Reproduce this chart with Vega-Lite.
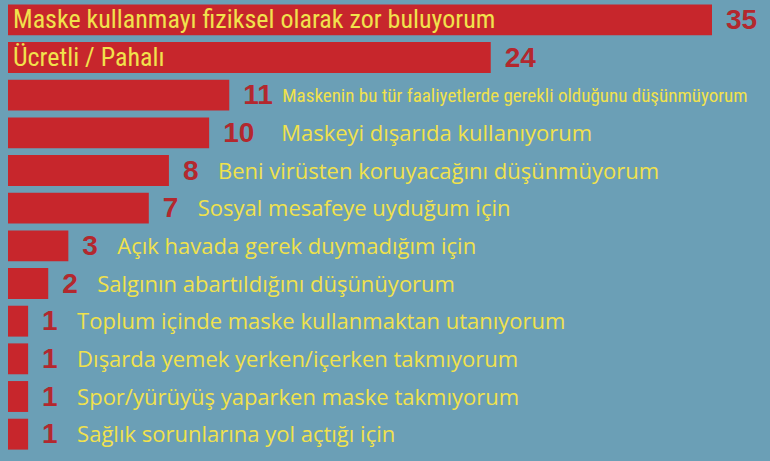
{
  "$schema": "https://vega.github.io/schema/vega-lite/v6.json",
  "width": 704,
  "height": 452,
  "autosize": {"type": "none"},
  "padding": {"top": 1, "left": 8, "right": 58, "bottom": 8},
  "background": "#6b9fb6",
  "config": {"view": {"stroke": null}},
  "data": {
    "values": [
      {"reason": "Maske kullanmayı fiziksel olarak zor buluyorum", "value": 35},
      {"reason": "Ücretli / Pahalı", "value": 24},
      {"reason": "Maskenin bu tür faaliyetlerde gerekli olduğunu düşünmüyorum", "value": 11},
      {"reason": "Maskeyi dışarıda kullanıyorum", "value": 10},
      {"reason": "Beni virüsten koruyacağını düşünmüyorum", "value": 8},
      {"reason": "Sosyal mesafeye uyduğum için", "value": 7},
      {"reason": "Açık havada gerek duymadığım için", "value": 3},
      {"reason": "Salgının abartıldığını düşünüyorum", "value": 2},
      {"reason": "Toplum içinde maske kullanmaktan utanıyorum", "value": 1},
      {"reason": "Dışarda yemek yerken/içerken takmıyorum", "value": 1},
      {"reason": "Spor/yürüyüş yaparken maske takmıyorum", "value": 1},
      {"reason": "Sağlık sorunlarına yol açtığı için", "value": 1}
    ]
  },
  "encoding": {
    "y": {
      "field": "reason",
      "type": "nominal",
      "sort": null,
      "axis": null,
      "scale": {"paddingInner": 0.18, "paddingOuter": 0.09}
    }
  },
  "layer": [
    {
      "mark": {"type": "bar", "color": "#c7262c"},
      "encoding": {
        "x": {"field": "value", "type": "quantitative", "axis": null, "scale": {"domain": [0, 35]}}
      }
    },
    {
      "mark": {"type": "text", "align": "left", "baseline": "middle", "dx": 14, "dy": 1, "font": "Liberation Sans", "fontWeight": "bold", "fontSize": 28, "color": "#b3282e"},
      "encoding": {
        "x": {"field": "value", "type": "quantitative"},
        "text": {"field": "value", "type": "quantitative"}
      }
    },
    {
      "transform": [{"filter": "datum.value >= 20"}],
      "mark": {"type": "text", "align": "left", "baseline": "middle", "dx": 5, "font": "'Roboto Condensed', Roboto", "fontSize": 26, "color": "#f1e24c"},
      "encoding": {
        "x": {"datum": 0, "type": "quantitative"},
        "text": {"field": "reason"}
      }
    },
    {
      "transform": [{"filter": "datum.value == 11"}],
      "mark": {"type": "text", "align": "left", "baseline": "middle", "dx": 53, "dy": 1, "font": "'Roboto Condensed', Roboto", "fontSize": 19, "color": "#f1e24c"},
      "encoding": {
        "x": {"field": "value", "type": "quantitative"},
        "text": {"field": "reason"}
      }
    },
    {
      "transform": [{"filter": "datum.value == 10"}],
      "mark": {"type": "text", "align": "left", "baseline": "middle", "dx": 72, "dy": 1, "font": "Open Sans", "fontSize": 22, "color": "#f1e24c"},
      "encoding": {
        "x": {"field": "value", "type": "quantitative"},
        "text": {"field": "reason"}
      }
    },
    {
      "transform": [{"filter": "datum.value < 10"}],
      "mark": {"type": "text", "align": "left", "baseline": "middle", "dx": 49, "dy": 1, "font": "Open Sans", "fontSize": 22, "color": "#f1e24c"},
      "encoding": {
        "x": {"field": "value", "type": "quantitative"},
        "text": {"field": "reason"}
      }
    }
  ]
}
